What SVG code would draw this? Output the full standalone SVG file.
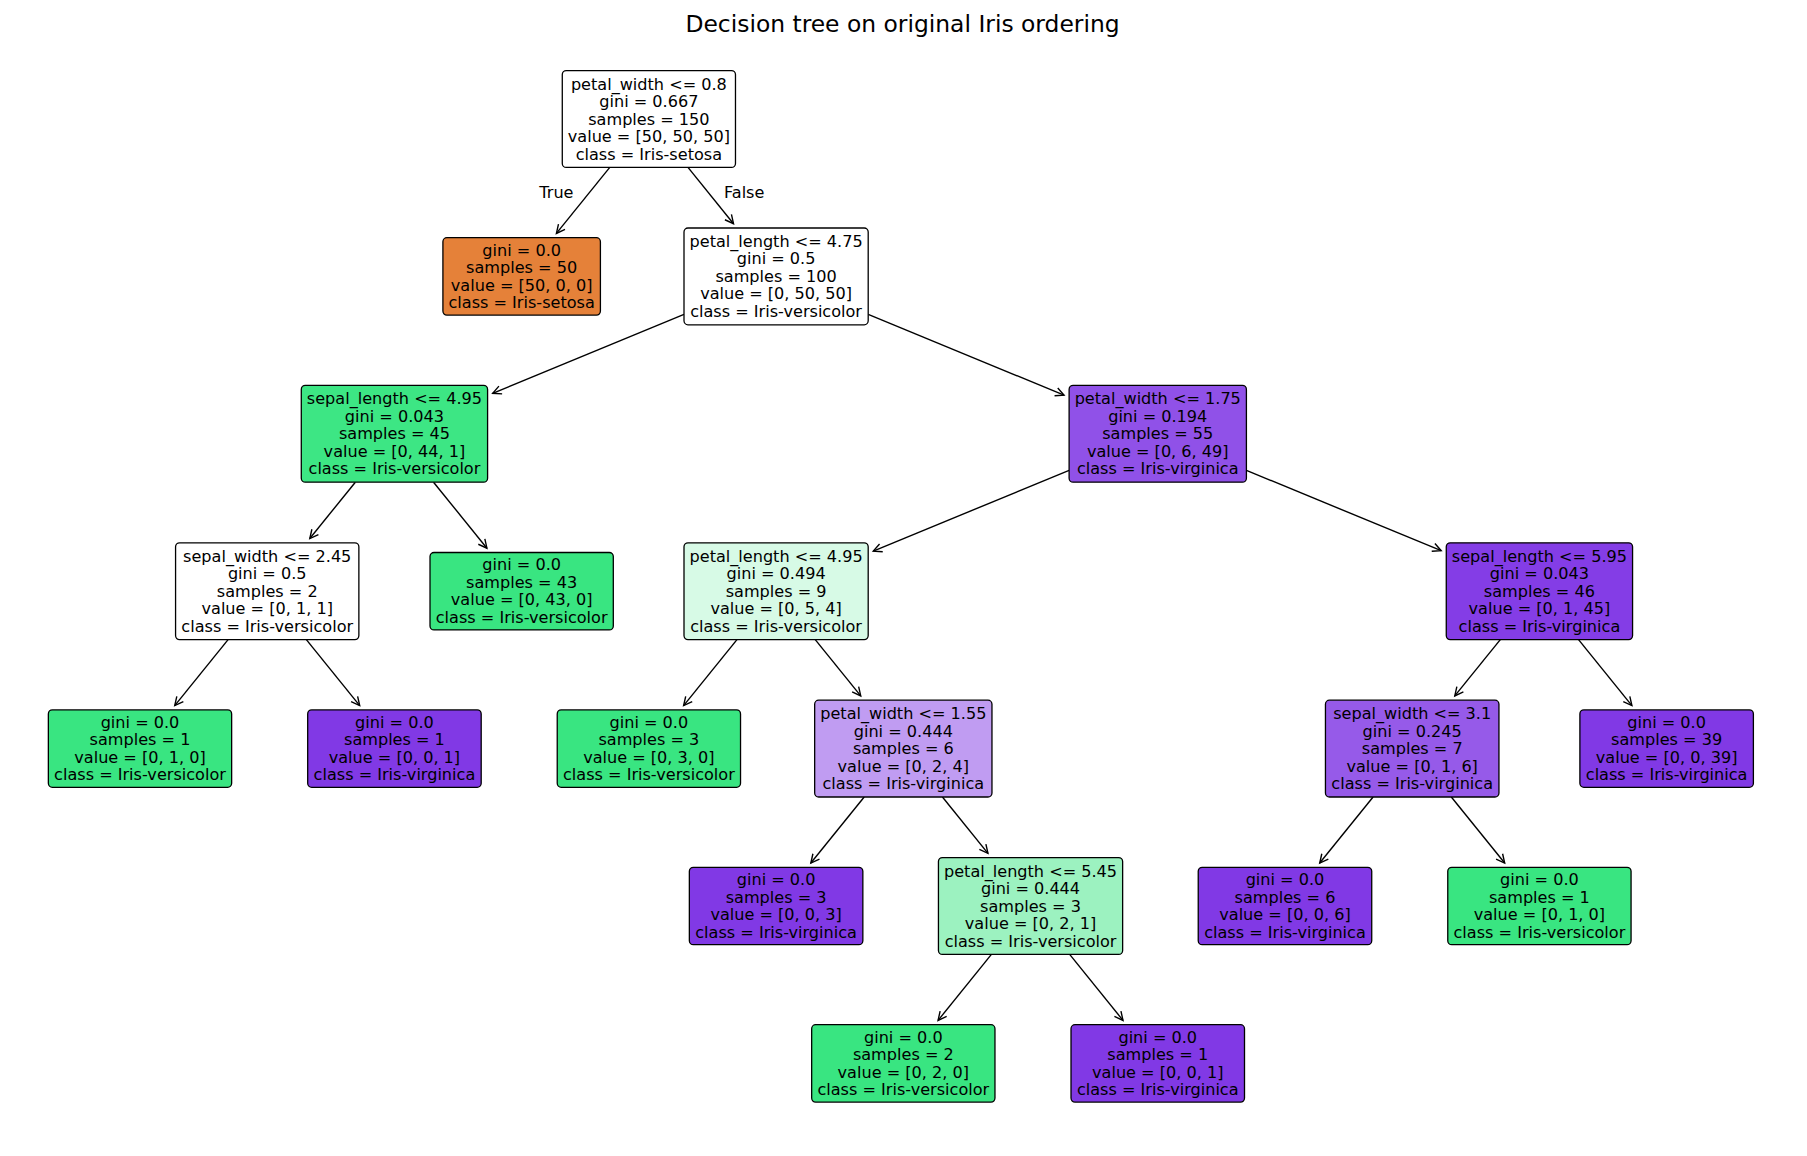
<svg xmlns="http://www.w3.org/2000/svg" width="1807" height="1156" viewBox="0 0 1807 1156">
<style>
text{font-family:"DejaVu Sans","Liberation Sans",sans-serif;fill:#000}
.t{font-size:16.1px;text-anchor:middle}
.box{stroke:#000;stroke-width:1.3}
.edge{stroke:#000;stroke-width:1.4;fill:none;marker-end:url(#ah)}
.w{fill:#ffffff}.g{fill:#39e581}.p{fill:#8139e5}.o{fill:#e58139}
</style>
<defs>
<marker id="ah" markerUnits="userSpaceOnUse" markerWidth="20" markerHeight="20" refX="0" refY="0" orient="auto" viewBox="-10 -10 20 20" overflow="visible">
<path d="M -8.5,-4.2 L 0,0 L -8.5,4.2" fill="none" stroke="#000" stroke-width="1.4"/>
</marker>
</defs>
<rect width="1807" height="1156" fill="#fff"/>
<text x="902.5" y="31.5" font-size="23.4" text-anchor="middle">Decision tree on original Iris ordering</text>
<g id="connectors">
<line class="edge" x1="609.76" y1="167.4" x2="556.4" y2="233.4"/>
<line class="edge" x1="688.0" y1="167.4" x2="733.52" y2="223.72"/>
<line class="edge" x1="684.0" y1="314.38" x2="492.67" y2="393.28"/>
<line class="edge" x1="868.2" y1="314.38" x2="1064.02" y2="395.14"/>
<line class="edge" x1="355.32" y1="482.2" x2="309.8" y2="538.52"/>
<line class="edge" x1="433.56" y1="482.2" x2="486.92" y2="548.22"/>
<line class="edge" x1="228.1" y1="639.6" x2="174.74" y2="705.62"/>
<line class="edge" x1="306.34" y1="639.6" x2="359.7" y2="705.62"/>
<line class="edge" x1="1069.11" y1="470.36" x2="873.28" y2="551.12"/>
<line class="edge" x1="1246.41" y1="470.36" x2="1441.19" y2="550.68"/>
<line class="edge" x1="736.98" y1="639.6" x2="683.62" y2="705.62"/>
<line class="edge" x1="815.22" y1="639.6" x2="860.74" y2="695.92"/>
<line class="edge" x1="864.2" y1="797.0" x2="810.84" y2="863.02"/>
<line class="edge" x1="942.44" y1="797.0" x2="987.96" y2="853.32"/>
<line class="edge" x1="991.42" y1="954.4" x2="938.06" y2="1020.42"/>
<line class="edge" x1="1069.66" y1="954.4" x2="1123.02" y2="1020.42"/>
<line class="edge" x1="1500.3" y1="639.6" x2="1454.78" y2="695.92"/>
<line class="edge" x1="1578.54" y1="639.6" x2="1631.9" y2="705.62"/>
<line class="edge" x1="1373.08" y1="797.0" x2="1319.72" y2="863.02"/>
<line class="edge" x1="1451.32" y1="797.0" x2="1504.68" y2="863.02"/>
<text x="573.5" y="198.3" font-size="16.1" text-anchor="end">True</text>
<text x="724" y="198.3" font-size="16.1" text-anchor="start">False</text>
</g>
<g id="n0"><rect class="box w" x="562.28" y="70.6" width="173.2" height="96.8" rx="4"/>
<text class="t" x="648.88"><tspan x="648.88" y="89.5">petal_width &lt;= 0.8</tspan><tspan x="648.88" y="107">gini = 0.667</tspan><tspan x="648.88" y="124.5">samples = 150</tspan><tspan x="648.88" y="142">value = [50, 50, 50]</tspan><tspan x="648.88" y="159.5">class = Iris-setosa</tspan></text></g>
<g id="n1"><rect class="box o" x="442.91" y="237.7" width="157.5" height="77.4" rx="4"/>
<text class="t"><tspan x="521.66" y="255.65">gini = 0.0</tspan><tspan x="521.66" y="273.15">samples = 50</tspan><tspan x="521.66" y="290.65">value = [50, 0, 0]</tspan><tspan x="521.66" y="308.15">class = Iris-setosa</tspan></text></g>
<g id="n2"><rect class="box w" x="684.0" y="228.0" width="184.2" height="96.8" rx="4"/>
<text class="t"><tspan x="776.1" y="246.9">petal_length &lt;= 4.75</tspan><tspan x="776.1" y="264.4">gini = 0.5</tspan><tspan x="776.1" y="281.9">samples = 100</tspan><tspan x="776.1" y="299.4">value = [0, 50, 50]</tspan><tspan x="776.1" y="316.9">class = Iris-versicolor</tspan></text></g>
<g id="n3"><rect class="box" fill="#3de684" x="301.29" y="385.4" width="186.3" height="96.8" rx="4"/>
<text class="t"><tspan x="394.44" y="404.3">sepal_length &lt;= 4.95</tspan><tspan x="394.44" y="421.8">gini = 0.043</tspan><tspan x="394.44" y="439.3">samples = 45</tspan><tspan x="394.44" y="456.8">value = [0, 44, 1]</tspan><tspan x="394.44" y="474.3">class = Iris-versicolor</tspan></text></g>
<g id="n4"><rect class="box w" x="175.57" y="542.8" width="183.3" height="96.8" rx="4"/>
<text class="t"><tspan x="267.22" y="561.7">sepal_width &lt;= 2.45</tspan><tspan x="267.22" y="579.2">gini = 0.5</tspan><tspan x="267.22" y="596.7">samples = 2</tspan><tspan x="267.22" y="614.2">value = [0, 1, 1]</tspan><tspan x="267.22" y="631.7">class = Iris-versicolor</tspan></text></g>
<g id="n5"><rect class="box g" x="48.35" y="709.9" width="183.3" height="77.4" rx="4"/>
<text class="t"><tspan x="140" y="727.85">gini = 0.0</tspan><tspan x="140" y="745.35">samples = 1</tspan><tspan x="140" y="762.85">value = [0, 1, 0]</tspan><tspan x="140" y="780.35">class = Iris-versicolor</tspan></text></g>
<g id="n6"><rect class="box p" x="307.69" y="709.9" width="173.5" height="77.4" rx="4"/>
<text class="t"><tspan x="394.44" y="727.85">gini = 0.0</tspan><tspan x="394.44" y="745.35">samples = 1</tspan><tspan x="394.44" y="762.85">value = [0, 0, 1]</tspan><tspan x="394.44" y="780.35">class = Iris-virginica</tspan></text></g>
<g id="n7"><rect class="box g" x="430.01" y="552.5" width="183.3" height="77.4" rx="4"/>
<text class="t"><tspan x="521.66" y="570.45">gini = 0.0</tspan><tspan x="521.66" y="587.95">samples = 43</tspan><tspan x="521.66" y="605.45">value = [0, 43, 0]</tspan><tspan x="521.66" y="622.95">class = Iris-versicolor</tspan></text></g>
<g id="n8"><rect class="box" fill="#9051e8" x="1069.11" y="385.4" width="177.3" height="96.8" rx="4"/>
<text class="t"><tspan x="1157.76" y="404.3">petal_width &lt;= 1.75</tspan><tspan x="1157.76" y="421.8">gini = 0.194</tspan><tspan x="1157.76" y="439.3">samples = 55</tspan><tspan x="1157.76" y="456.8">value = [0, 6, 49]</tspan><tspan x="1157.76" y="474.3">class = Iris-virginica</tspan></text></g>
<g id="n9"><rect class="box" fill="#d7fae6" x="684.0" y="542.8" width="184.2" height="96.8" rx="4"/>
<text class="t"><tspan x="776.1" y="561.7">petal_length &lt;= 4.95</tspan><tspan x="776.1" y="579.2">gini = 0.494</tspan><tspan x="776.1" y="596.7">samples = 9</tspan><tspan x="776.1" y="614.2">value = [0, 5, 4]</tspan><tspan x="776.1" y="631.7">class = Iris-versicolor</tspan></text></g>
<g id="n10"><rect class="box g" x="557.23" y="709.9" width="183.3" height="77.4" rx="4"/>
<text class="t"><tspan x="648.88" y="727.85">gini = 0.0</tspan><tspan x="648.88" y="745.35">samples = 3</tspan><tspan x="648.88" y="762.85">value = [0, 3, 0]</tspan><tspan x="648.88" y="780.35">class = Iris-versicolor</tspan></text></g>
<g id="n11"><rect class="box" fill="#c09cf2" x="814.67" y="700.2" width="177.3" height="96.8" rx="4"/>
<text class="t"><tspan x="903.32" y="719.1">petal_width &lt;= 1.55</tspan><tspan x="903.32" y="736.6">gini = 0.444</tspan><tspan x="903.32" y="754.1">samples = 6</tspan><tspan x="903.32" y="771.6">value = [0, 2, 4]</tspan><tspan x="903.32" y="789.1">class = Iris-virginica</tspan></text></g>
<g id="n12"><rect class="box p" x="689.35" y="867.3" width="173.5" height="77.4" rx="4"/>
<text class="t"><tspan x="776.1" y="885.25">gini = 0.0</tspan><tspan x="776.1" y="902.75">samples = 3</tspan><tspan x="776.1" y="920.25">value = [0, 0, 3]</tspan><tspan x="776.1" y="937.75">class = Iris-virginica</tspan></text></g>
<g id="n13"><rect class="box" fill="#9cf2c0" x="938.44" y="857.6" width="184.2" height="96.8" rx="4"/>
<text class="t"><tspan x="1030.54" y="876.5">petal_length &lt;= 5.45</tspan><tspan x="1030.54" y="894">gini = 0.444</tspan><tspan x="1030.54" y="911.5">samples = 3</tspan><tspan x="1030.54" y="929">value = [0, 2, 1]</tspan><tspan x="1030.54" y="946.5">class = Iris-versicolor</tspan></text></g>
<g id="n14"><rect class="box g" x="811.67" y="1024.7" width="183.3" height="77.4" rx="4"/>
<text class="t"><tspan x="903.32" y="1042.65">gini = 0.0</tspan><tspan x="903.32" y="1060.15">samples = 2</tspan><tspan x="903.32" y="1077.65">value = [0, 2, 0]</tspan><tspan x="903.32" y="1095.15">class = Iris-versicolor</tspan></text></g>
<g id="n15"><rect class="box p" x="1071.01" y="1024.7" width="173.5" height="77.4" rx="4"/>
<text class="t"><tspan x="1157.76" y="1042.65">gini = 0.0</tspan><tspan x="1157.76" y="1060.15">samples = 1</tspan><tspan x="1157.76" y="1077.65">value = [0, 0, 1]</tspan><tspan x="1157.76" y="1095.15">class = Iris-virginica</tspan></text></g>
<g id="n16"><rect class="box" fill="#843de6" x="1446.27" y="542.8" width="186.3" height="96.8" rx="4"/>
<text class="t"><tspan x="1539.42" y="561.7">sepal_length &lt;= 5.95</tspan><tspan x="1539.42" y="579.2">gini = 0.043</tspan><tspan x="1539.42" y="596.7">samples = 46</tspan><tspan x="1539.42" y="614.2">value = [0, 1, 45]</tspan><tspan x="1539.42" y="631.7">class = Iris-virginica</tspan></text></g>
<g id="n17"><rect class="box" fill="#965ae9" x="1325.45" y="700.2" width="173.5" height="96.8" rx="4"/>
<text class="t"><tspan x="1412.2" y="719.1">sepal_width &lt;= 3.1</tspan><tspan x="1412.2" y="736.6">gini = 0.245</tspan><tspan x="1412.2" y="754.1">samples = 7</tspan><tspan x="1412.2" y="771.6">value = [0, 1, 6]</tspan><tspan x="1412.2" y="789.1">class = Iris-virginica</tspan></text></g>
<g id="n18"><rect class="box p" x="1198.23" y="867.3" width="173.5" height="77.4" rx="4"/>
<text class="t"><tspan x="1284.98" y="885.25">gini = 0.0</tspan><tspan x="1284.98" y="902.75">samples = 6</tspan><tspan x="1284.98" y="920.25">value = [0, 0, 6]</tspan><tspan x="1284.98" y="937.75">class = Iris-virginica</tspan></text></g>
<g id="n19"><rect class="box g" x="1447.77" y="867.3" width="183.3" height="77.4" rx="4"/>
<text class="t"><tspan x="1539.42" y="885.25">gini = 0.0</tspan><tspan x="1539.42" y="902.75">samples = 1</tspan><tspan x="1539.42" y="920.25">value = [0, 1, 0]</tspan><tspan x="1539.42" y="937.75">class = Iris-versicolor</tspan></text></g>
<g id="n20"><rect class="box p" x="1579.89" y="709.9" width="173.5" height="77.4" rx="4"/>
<text class="t"><tspan x="1666.64" y="727.85">gini = 0.0</tspan><tspan x="1666.64" y="745.35">samples = 39</tspan><tspan x="1666.64" y="762.85">value = [0, 0, 39]</tspan><tspan x="1666.64" y="780.35">class = Iris-virginica</tspan></text></g>
</svg>
